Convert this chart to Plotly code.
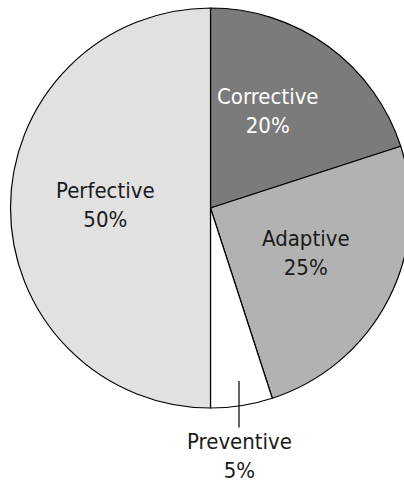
import plotly.graph_objects as go

# maintenance types, clockwise from 12 o'clock
categories = ["Corrective", "Adaptive", "Preventive", "Perfective"]
shares = [20, 25, 5, 50]
slice_colors = ["#7b7b7b", "#b2b2b2", "#ffffff", "#e1e1e1"]

W, H = 420, 487
FONT = "Liberation Sans Narrow, DejaVu Sans Condensed, Roboto, sans-serif"


def px(x):
    return x / W


def py(y):
    return 1 - y / H


fig = go.Figure(
    go.Pie(
        labels=categories,
        values=shares,
        sort=False,
        direction="clockwise",
        rotation=0,
        textinfo="none",
        hoverinfo="label+percent",
        marker=dict(colors=slice_colors, line=dict(color="black", width=1.2)),
        domain=dict(x=[px(10.5), px(410.5)], y=[py(408), py(8)]),
        showlegend=False,
    )
)

label_pos = {
    "Corrective": (268, 111, "white"),
    "Adaptive": (306, 253, "#1a1a1a"),
    "Perfective": (105, 205, "#1a1a1a"),
}
for name, share in zip(categories, shares):
    if name not in label_pos:
        continue
    x, y, col = label_pos[name]
    fig.add_annotation(
        x=px(x), y=py(y), xref="paper", yref="paper",
        xanchor="center", yanchor="middle",
        text=f"{name}<br>{share}%", showarrow=False,
        font=dict(family=FONT, size=22, color=col),
    )

# small slice gets an outside label with a leader line
fig.add_annotation(
    x=px(239), y=py(381), xref="paper", yref="paper",
    text=f"{categories[2]}<br>{shares[2]}%",
    showarrow=True, arrowhead=0, arrowwidth=1.2, arrowcolor="black",
    ax=0, ay=75,
    font=dict(family=FONT, size=22, color="#1a1a1a"),
)

fig.update_layout(
    width=W, height=H,
    margin=dict(l=0, r=0, t=0, b=0),
    paper_bgcolor="white",
    plot_bgcolor="white",
)

fig.write_html(
    "out.html",
    config={"displayModeBar": False},
    post_script="document.body.style.margin='0';"
    "document.body.style.overflow='hidden';"
    "document.documentElement.style.overflow='hidden';",
)
